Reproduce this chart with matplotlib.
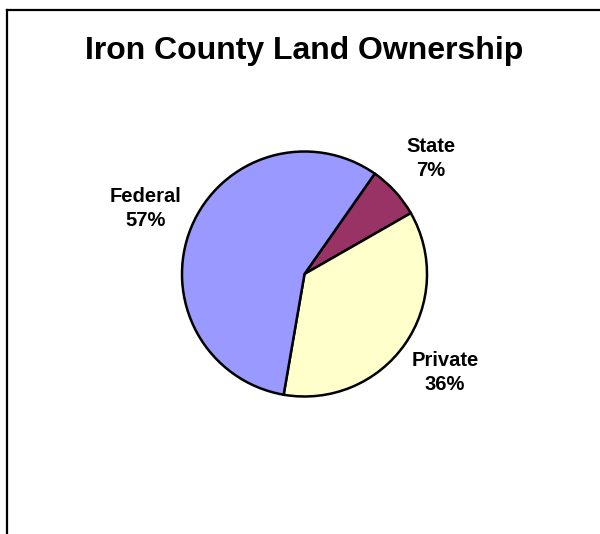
import matplotlib
matplotlib.use('Agg')
import matplotlib.pyplot as plt
from matplotlib.lines import Line2D

# chart data
categories = ['State', 'Private', 'Federal']
shares = [7, 36, 57]
colors = ['#993366', '#FFFFCC', '#9999FF']

W, H = 600, 534
plt.rcParams['font.family'] = ['Liberation Sans', 'DejaVu Sans']

fig = plt.figure(figsize=(W / 100, H / 100), dpi=100)
fig.patch.set_facecolor('white')

# pie axes placed so the circle sits at (304.5, 274) px with radius ~122.5 px
r_px = 122.5
cx, cy = 304.5, 274
half = 1.5 * r_px
ax = fig.add_axes([(cx - half) / W, (H - cy - half) / H, 2 * half / W, 2 * half / H])

labels = [f'{c}\n{v}%' for c, v in zip(categories, shares)]
wedges, texts = ax.pie(shares, labels=labels, colors=colors, startangle=55,
                       counterclock=False, labeldistance=1.4,
                       wedgeprops={'edgecolor': 'black', 'linewidth': 1.8},
                       textprops={'fontsize': 14.5, 'fontweight': 'bold'})
for t in texts:
    t.set_ha('center')
    t.set_va('center')
    t.set_linespacing(1.3)

ax.set_xlim(-1.5, 1.5)
ax.set_ylim(-1.5, 1.5)
ax.set_aspect('equal')
ax.axis('off')

# title
fig.text(304 / W, (H - 59) / H, 'Iron County Land Ownership', ha='center',
         va='baseline', fontsize=23, fontweight='bold')

# chart frame (top and left edges only visible)
fig.add_artist(Line2D([6.5 / W, 1.0], [(H - 9.5) / H, (H - 9.5) / H],
                      color='black', linewidth=1.6, transform=fig.transFigure))
fig.add_artist(Line2D([6.5 / W, 6.5 / W], [0.0, (H - 9.5) / H],
                      color='black', linewidth=1.6, transform=fig.transFigure))

fig.savefig('out.png', dpi=100)
